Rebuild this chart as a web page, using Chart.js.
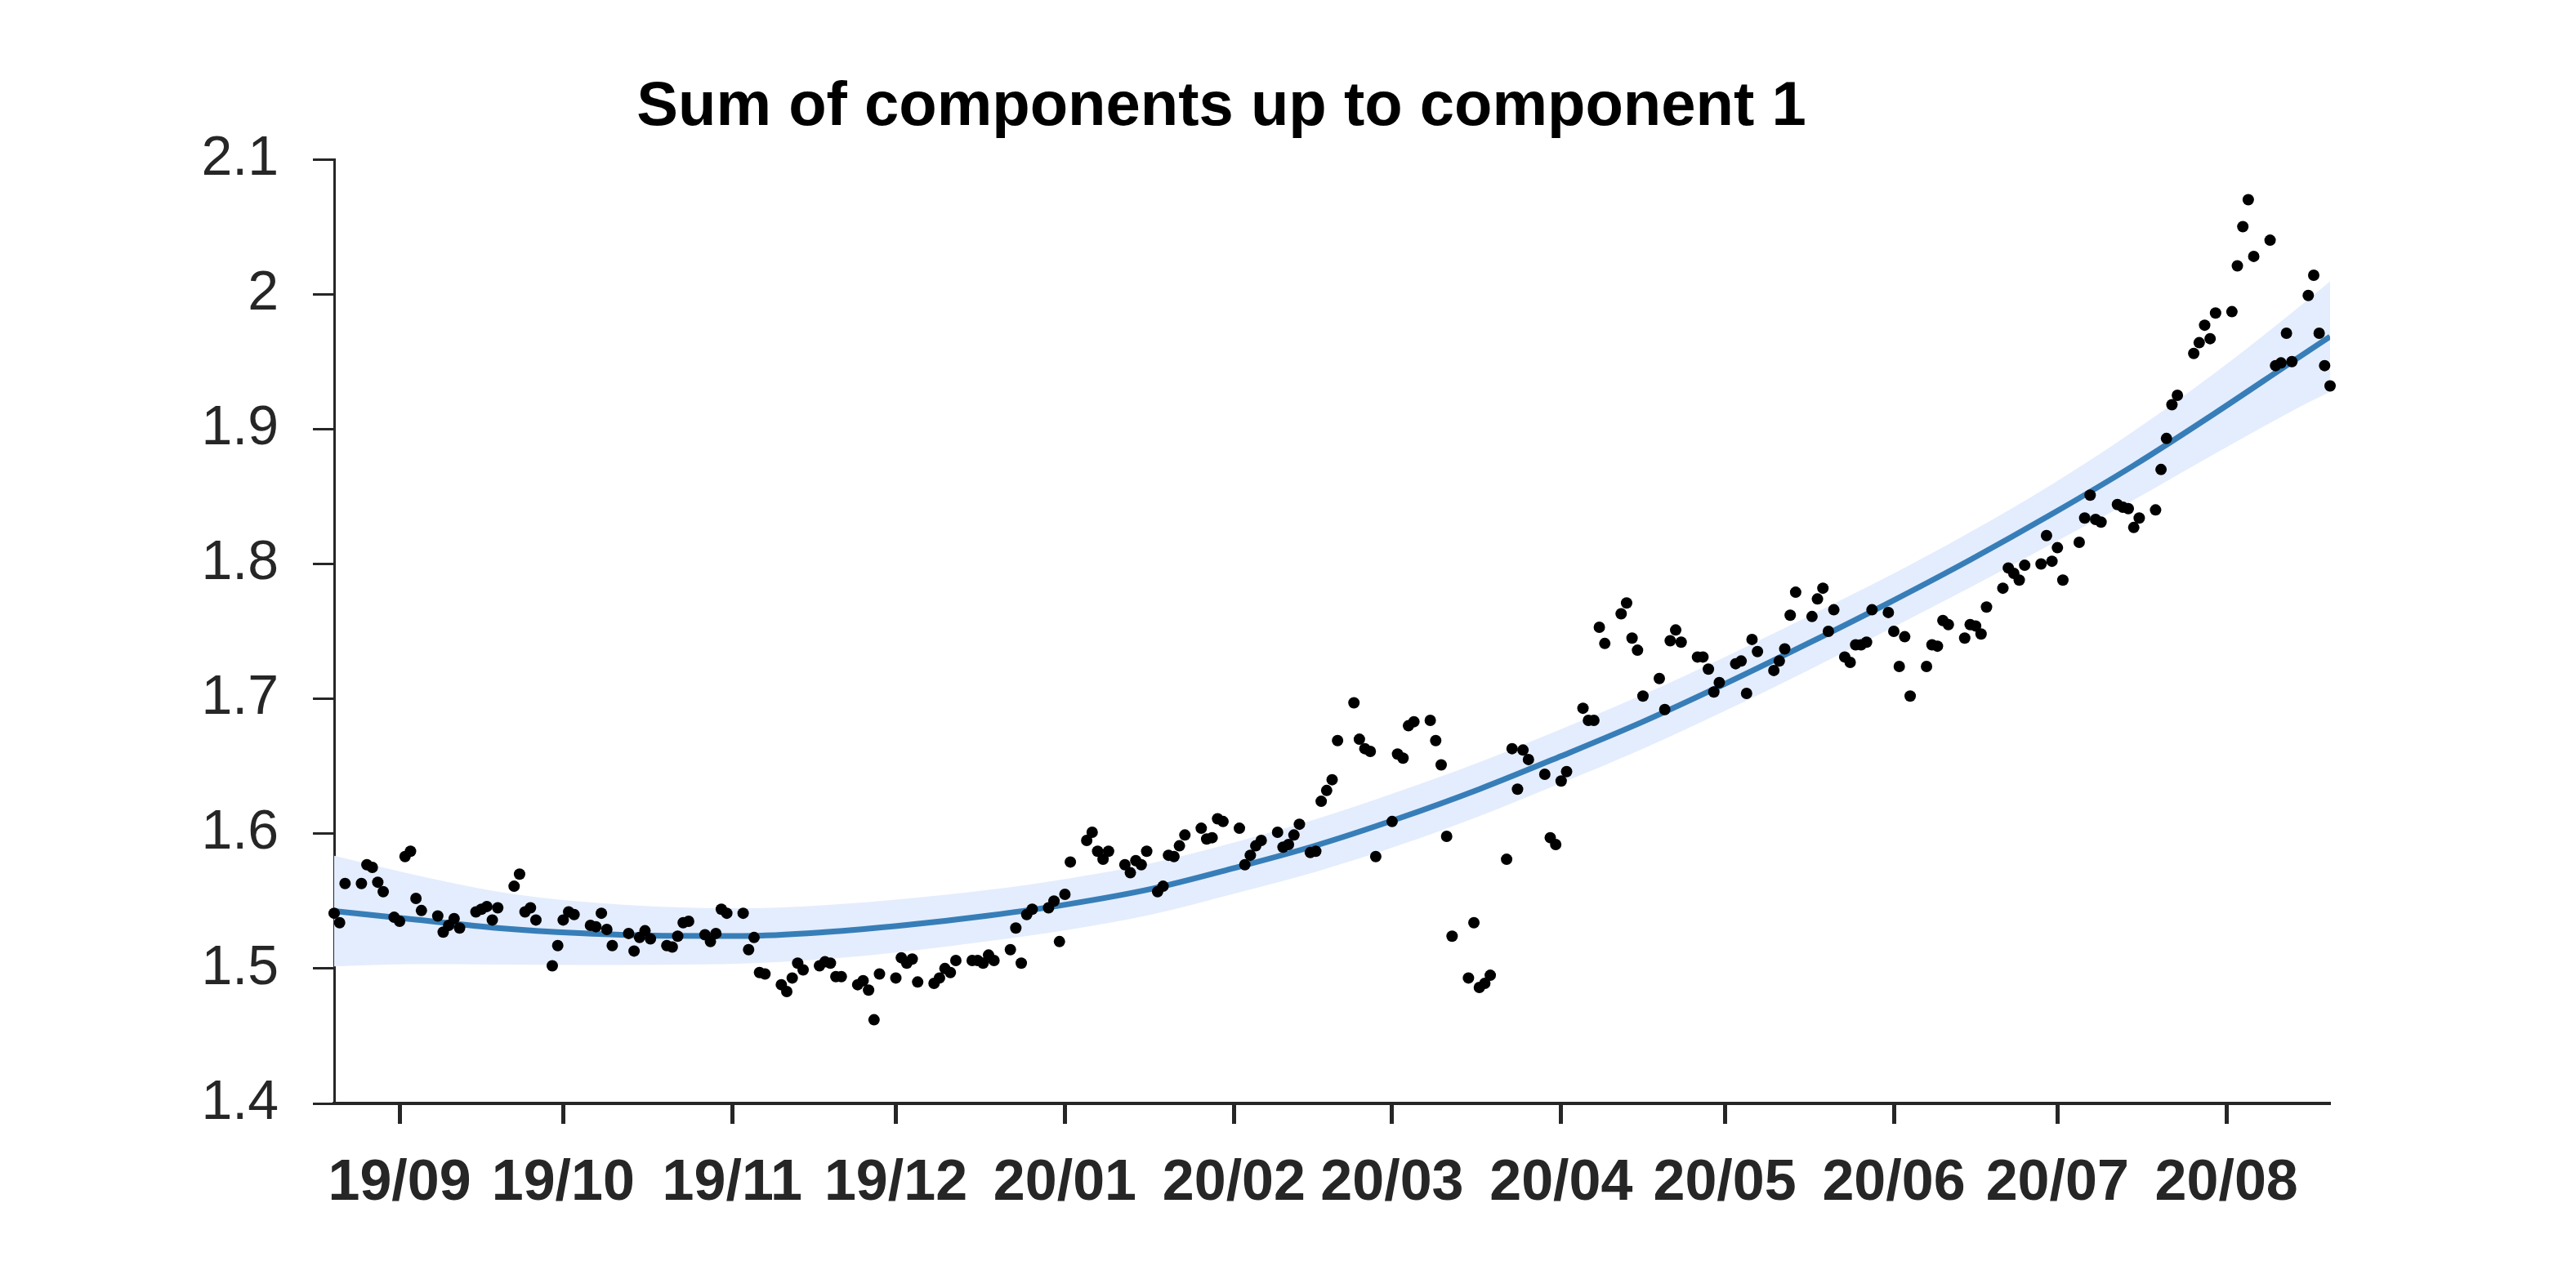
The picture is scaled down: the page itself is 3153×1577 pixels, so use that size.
<!DOCTYPE html>
<html>
<head>
<meta charset="utf-8">
<script src="https://cdn.jsdelivr.net/npm/chart.js@4"></script>
<style>
html,body{margin:0;padding:0;background:#fff;overflow:hidden}
canvas{display:block}
</style>
</head>
<body>
<canvas id="c" width="3153" height="1577" style="width:3153px;height:1577px"></canvas>
<script>
// ---------------- data ----------------
const titleText = 'Sum of components up to component 1';
const startDate = '2019-08-20';
const endDate = '2020-08-20';

const monthTicks = ['2019-09-01','2019-10-01','2019-11-01','2019-12-01','2020-01-01','2020-02-01',
                    '2020-03-01','2020-04-01','2020-05-01','2020-06-01','2020-07-01','2020-08-01'];
const monthLabels = ['19/09','19/10','19/11','19/12','20/01','20/02','20/03','20/04','20/05','20/06','20/07','20/08'];

const yTicks = [1.4, 1.5, 1.6, 1.7, 1.8, 1.9, 2.0, 2.1];
const yTickLabels = ['1.4','1.5','1.6','1.7','1.8','1.9','2','2.1'];

// observations: day of month + value, one pair of arrays per month
const aug19Days = [20,21,22,25,26,27,28,29,31];
const aug19Vals = [1.541,1.534,1.563,1.563,1.577,1.575,1.564,1.557,1.538];
const sep19Days = [1,2,3,4,5,8,9,10,11,12,15,16,17,18,19,22,23,24,25,26,29,30];
const sep19Vals = [1.535,1.583,1.587,1.552,1.543,1.539,1.527,1.532,1.537,1.530,1.542,1.544,1.546,1.536,1.545,1.561,1.570,1.542,1.545,1.536,1.502,1.517];
const oct19Days = [1,2,3,6,7,8,9,10,13,14,15,16,17,20,21,22,23,24,27,28,29,30,31];
const oct19Vals = [1.536,1.542,1.540,1.532,1.531,1.541,1.529,1.517,1.526,1.513,1.523,1.528,1.522,1.517,1.516,1.524,1.534,1.535,1.525,1.520,1.526,1.544,1.541];
const nov19Days = [3,4,5,6,7,10,11,12,13,14,17,18,19,20,21,24,25,26,27,28];
const nov19Vals = [1.541,1.514,1.523,1.497,1.496,1.488,1.483,1.493,1.504,1.499,1.502,1.505,1.504,1.494,1.494,1.488,1.491,1.484,1.462,1.496];
const dec19Days = [1,2,3,4,5,8,9,10,11,12,15,16,17,18,19,22,23,24,25,26,29,30,31];
const dec19Vals = [1.493,1.508,1.504,1.507,1.490,1.489,1.493,1.500,1.497,1.506,1.506,1.506,1.504,1.510,1.506,1.514,1.530,1.504,1.540,1.544,1.545,1.550,1.520];
const jan20Days = [1,2,5,6,7,8,9,12,13,14,15,16,18,19,20,21,22,23,26,27,28,29,30];
const jan20Vals = [1.555,1.579,1.595,1.601,1.587,1.581,1.587,1.577,1.571,1.580,1.577,1.587,1.557,1.561,1.584,1.583,1.591,1.599,1.604,1.596,1.597,1.611,1.609];
const feb20Days = [2,3,4,5,6,9,10,11,12,13,15,16,17,18,19,20,23,24,25,26,27];
const feb20Vals = [1.604,1.577,1.584,1.591,1.595,1.601,1.590,1.592,1.599,1.607,1.586,1.587,1.624,1.632,1.640,1.669,1.697,1.670,1.663,1.661,1.583];
const mar20Days = [1,2,3,4,5,8,9,10,11,12,15,16,17,18,19,22,23,24,25,26,29,30,31];
const mar20Vals = [1.609,1.659,1.656,1.680,1.683,1.684,1.669,1.651,1.598,1.524,1.493,1.534,1.486,1.489,1.495,1.581,1.663,1.633,1.662,1.655,1.644,1.597,1.592];
const apr20Days = [1,2,5,6,7,8,9,12,13,14,15,16,19,20,21,22,23,26,27,28,29,30];
const apr20Vals = [1.639,1.646,1.693,1.684,1.684,1.753,1.741,1.763,1.771,1.745,1.736,1.702,1.715,1.692,1.743,1.751,1.742,1.731,1.731,1.722,1.705,1.712];
const may20Days = [3,4,5,6,7,10,11,12,13,14,17,18,19,20,21,23,24,25,26,27,28,31];
const may20Vals = [1.726,1.728,1.704,1.744,1.735,1.721,1.728,1.737,1.762,1.779,1.761,1.774,1.782,1.750,1.766,1.731,1.727,1.740,1.740,1.742,1.766,1.764];
const jun20Days = [1,2,3,4,7,8,9,10,11,14,15,16,17,18,21,22,23,24,25,28,29,30];
const jun20Vals = [1.750,1.724,1.746,1.702,1.724,1.740,1.739,1.758,1.755,1.745,1.755,1.754,1.748,1.768,1.782,1.797,1.793,1.788,1.799,1.800,1.821,1.802];
const jul20Days = [1,2,5,6,7,8,9,12,13,14,15,16,19,20,21,22,23,26,27,28,29,30];
const jul20Vals = [1.812,1.788,1.816,1.834,1.851,1.833,1.831,1.844,1.842,1.841,1.827,1.834,1.840,1.870,1.893,1.918,1.925,1.956,1.964,1.977,1.967,1.986];
const aug20Days = [2,3,4,5,6,9,10,11,12,13,16,17,18,19,20];
const aug20Vals = [1.987,2.021,2.050,2.070,2.028,2.040,1.947,1.949,1.971,1.950,1.999,2.014,1.971,1.947,1.932];

// fitted curve and its band, read at knots
const fitDates = ['2019-08-20','2019-09-04','2019-09-19','2019-10-04','2019-10-19','2019-11-03','2019-11-18',
                  '2019-12-03','2019-12-18','2020-01-02','2020-01-17','2020-02-01','2020-02-16','2020-03-02',
                  '2020-03-17','2020-04-01','2020-04-16','2020-05-01','2020-05-16','2020-05-31','2020-06-15',
                  '2020-06-30','2020-07-15','2020-07-30','2020-08-14','2020-08-20'];
const fitMean  = [1.5426,1.5362,1.5300,1.5262,1.5243,1.5242,1.5270,1.5323,1.5393,1.5480,1.5592,1.5745,1.5912,
                  1.6110,1.6330,1.6575,1.6830,1.7110,1.7405,1.7710,1.8030,1.8370,1.8730,1.9120,1.9525,1.9685];
const fitUpper = [1.5836,1.5692,1.5570,1.5497,1.5458,1.5447,1.5470,1.5518,1.5583,1.5670,1.5782,1.5935,1.6107,
                  1.6310,1.6530,1.6775,1.7030,1.7310,1.7605,1.7908,1.8235,1.8590,1.8985,1.9420,1.9895,2.0095];
const fitLower = [1.5016,1.5032,1.5030,1.5027,1.5028,1.5037,1.5070,1.5128,1.5203,1.5290,1.5402,1.5555,1.5717,
                  1.5910,1.6130,1.6375,1.6630,1.6910,1.7205,1.7512,1.7825,1.8150,1.8475,1.8820,1.9155,1.9275];

// ---------------- build ----------------
const baseMs = Date.parse(startDate + 'T00:00:00Z');
const dayOf = s => (Date.parse(s + 'T00:00:00Z') - baseMs) / 864e5;
const pad2 = n => String(n).padStart(2, '0');

const obsMonths = [
  ['2019-08', aug19Days, aug19Vals], ['2019-09', sep19Days, sep19Vals], ['2019-10', oct19Days, oct19Vals],
  ['2019-11', nov19Days, nov19Vals], ['2019-12', dec19Days, dec19Vals], ['2020-01', jan20Days, jan20Vals],
  ['2020-02', feb20Days, feb20Vals], ['2020-03', mar20Days, mar20Vals], ['2020-04', apr20Days, apr20Vals],
  ['2020-05', may20Days, may20Vals], ['2020-06', jun20Days, jun20Vals], ['2020-07', jul20Days, jul20Vals],
  ['2020-08', aug20Days, aug20Vals]
];
const obsPoints = [];
obsMonths.forEach(([ym, ds, vs]) => ds.forEach((d, i) => obsPoints.push({x: dayOf(ym + '-' + pad2(d)), y: vs[i]})));

const toXY = arr => fitDates.map((d, i) => ({x: dayOf(d), y: arr[i]}));

const FONT = '"Liberation Sans", Arial, Helvetica, sans-serif';
const INK = '#262626';
Chart.defaults.font.family = FONT;

const titlePlugin = {
  id: 'refTitle',
  afterDraw(chart) {
    const ctx = chart.ctx;
    ctx.save();
    ctx.font = 'bold 76px ' + FONT;
    ctx.fillStyle = '#000';
    ctx.textAlign = 'center';
    ctx.textBaseline = 'alphabetic';
    ctx.fillText(titleText, 1495, 153);
    ctx.restore();
  }
};

new Chart(document.getElementById('c'), {
  type: 'line',
  data: {
    datasets: [
      {
        label: 'observed', data: obsPoints, showLine: false,
        pointRadius: 7, pointHoverRadius: 7, pointBackgroundColor: '#000', pointBorderWidth: 0,
        borderColor: '#000', order: 0, clip: false
      },
      {
        label: 'fit', data: toXY(fitMean), borderColor: '#377eb8', borderWidth: 7,
        pointRadius: 0, fill: false, cubicInterpolationMode: 'monotone', order: 1, borderCapStyle: 'butt'
      },
      {
        label: 'upper', data: toXY(fitUpper), borderColor: 'rgba(0,0,0,0)', borderWidth: 1,
        pointRadius: 0, fill: '+1', backgroundColor: '#e4edfd', cubicInterpolationMode: 'monotone', order: 2
      },
      {
        label: 'lower', data: toXY(fitLower), borderColor: 'rgba(0,0,0,0)', borderWidth: 1,
        pointRadius: 0, fill: false, cubicInterpolationMode: 'monotone', order: 3
      }
    ]
  },
  options: {
    responsive: false,
    animation: false,
    devicePixelRatio: 1,
    events: [],
    layout: { padding: { top: 195, right: 301, bottom: 0, left: 0 } },
    plugins: { legend: { display: false }, title: { display: false }, tooltip: { enabled: false } },
    scales: {
      x: {
        type: 'linear',
        min: 0,
        max: dayOf(endDate),
        afterBuildTicks: s => { s.ticks = monthTicks.map(d => ({ value: dayOf(d) })); },
        afterFit: s => { s.height = 226; },
        ticks: {
          autoSkip: false, maxRotation: 0, minRotation: 0,
          callback: (v, i) => monthLabels[i],
          color: INK, padding: 32,
          font: { family: FONT, size: 70, weight: 'bold' }
        },
        grid: { drawOnChartArea: false, drawTicks: true, tickLength: 25, tickWidth: 5, tickColor: INK },
        border: { display: true, color: INK, width: 4 }
      },
      y: {
        type: 'linear',
        min: 1.4,
        max: 2.1,
        afterBuildTicks: s => { s.ticks = yTicks.map(v => ({ value: v })); },
        afterFit: s => { s.width = 409; },
        ticks: {
          callback: (v, i) => yTickLabels[i],
          color: INK, padding: 42,
          font: { family: FONT, size: 68, weight: 'normal' }
        },
        grid: { drawOnChartArea: false, drawTicks: true, tickLength: 26, tickWidth: 3, tickColor: INK },
        border: { display: true, color: INK, width: 3 }
      }
    }
  },
  plugins: [titlePlugin]
});
</script>
</body>
</html>
